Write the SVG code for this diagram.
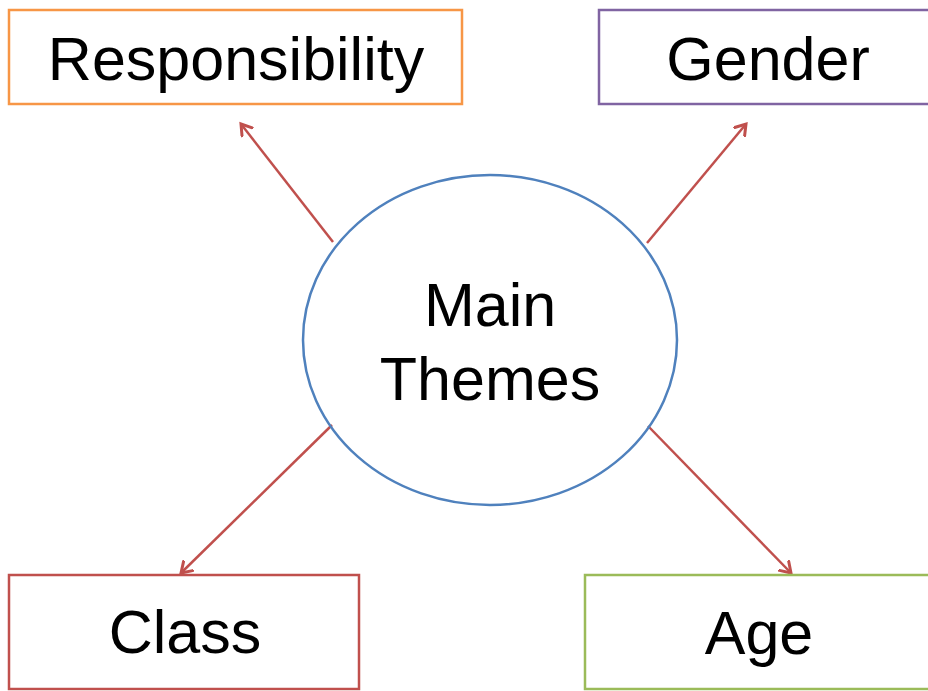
<svg xmlns="http://www.w3.org/2000/svg" width="928" height="691" viewBox="0 0 928 691">
  <style>
    .box { fill: #ffffff; stroke-width: 2.5; }
    .label { font-family: "Liberation Sans", Arial, sans-serif; font-size: 61px; fill: #000000; text-anchor: middle; }
    .link { stroke: #C0504D; stroke-width: 2.5; fill: none; marker-end: url(#head); }
  </style>
  <defs>
    <!-- open chevron arrowhead shared by every connector -->
    <marker id="head" markerWidth="16" markerHeight="16" refX="11" refY="8" orient="auto" markerUnits="userSpaceOnUse">
      <path d="M1,1.5 L11,8 L1,14.5" fill="none" stroke="#C0504D" stroke-width="3" stroke-linejoin="miter" stroke-linecap="round"/>
    </marker>
  </defs>
  <rect width="928" height="691" fill="#ffffff"/>

  <g id="links">
    <line class="link" x1="333" y1="242" x2="241" y2="124"/>
    <line class="link" x1="647" y1="243" x2="746" y2="124"/>
    <line class="link" x1="332" y1="425" x2="181" y2="573"/>
    <line class="link" x1="648" y1="426" x2="791" y2="573"/>
  </g>

  <g id="main-themes">
    <ellipse cx="490" cy="340" rx="187" ry="165" fill="none" stroke="#4F81BD" stroke-width="2.5"/>
    <text class="label" x="490" y="326">Main</text>
    <text class="label" x="490" y="400">Themes</text>
  </g>

  <g id="responsibility">
    <rect class="box" x="9" y="10" width="453" height="94" stroke="#F79646"/>
    <text class="label" x="236" y="80">Responsibility</text>
  </g>

  <g id="gender">
    <rect class="box" x="599" y="10" width="340" height="94" stroke="#8064A2"/>
    <text class="label" x="768" y="80">Gender</text>
  </g>

  <g id="class">
    <rect class="box" x="9" y="575" width="350" height="114" stroke="#C0504D"/>
    <text class="label" x="185" y="653">Class</text>
  </g>

  <g id="age">
    <rect class="box" x="585" y="575" width="355" height="114" stroke="#9BBB59"/>
    <text class="label" x="759" y="654">Age</text>
  </g>
</svg>
